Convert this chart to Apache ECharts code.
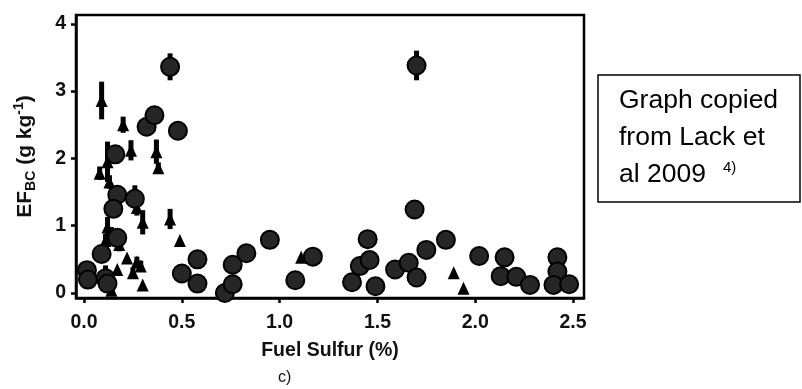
<!DOCTYPE html>
<html>
<head>
<meta charset="utf-8">
<script src="https://cdn.jsdelivr.net/npm/echarts@6/dist/echarts.min.js"></script>
<style>
  html, body { margin: 0; padding: 0; background: #fff; }
  #chart { width: 802px; height: 389px; }
</style>
</head>
<body>
<div id="chart"></div>
<script>
// fuel sulfur (%), EF_BC (g/kg), error half-length
const circles = [
  [0.015, 0.34, 0], [0.02, 0.20, 0], [0.09, 0.58, 0], [0.11, 0.22, 0], [0.12, 0.14, 0],
  [0.16, 2.06, 0], [0.17, 1.46, 0], [0.15, 1.25, 0], [0.17, 0.82, 0], [0.26, 1.40, 0],
  [0.32, 2.47, 0], [0.36, 2.64, 0], [0.48, 2.41, 0], [0.44, 3.36, 0.2], [0.50, 0.29, 0],
  [0.58, 0.50, 0.08], [0.58, 0.14, 0], [0.72, 0.00, 0], [0.76, 0.42, 0], [0.76, 0.13, 0],
  [0.83, 0.59, 0], [0.95, 0.79, 0], [1.08, 0.19, 0], [1.17, 0.54, 0], [1.37, 0.16, 0],
  [1.41, 0.40, 0], [1.46, 0.49, 0], [1.45, 0.80, 0], [1.49, 0.10, 0], [1.59, 0.35, 0],
  [1.66, 0.45, 0], [1.70, 0.23, 0], [1.69, 1.24, 0.1], [1.70, 3.38, 0.22], [1.75, 0.64, 0],
  [1.85, 0.79, 0], [2.02, 0.55, 0.1], [2.15, 0.53, 0], [2.13, 0.25, 0], [2.21, 0.24, 0],
  [2.28, 0.12, 0], [2.42, 0.53, 0], [2.42, 0.32, 0], [2.40, 0.12, 0], [2.48, 0.13, 0]
]
const triangles = [
  [0.09, 2.86, 0.28], [0.20, 2.50, 0.12], [0.37, 2.10, 0.18], [0.38, 1.86, 0.08],
  [0.12, 1.95, 0.3], [0.24, 2.12, 0.15], [0.08, 1.78, 0.1], [0.26, 1.50, 0.1],
  [0.27, 1.27, 0.12], [0.30, 1.05, 0.18], [0.44, 1.10, 0.15], [0.49, 0.78, 0],
  [0.12, 0.98, 0.15], [0.14, 0.88, 0.1], [0.11, 0.78, 0.1], [0.13, 1.65, 0.1],
  [0.18, 0.72, 0.1], [0.22, 0.52, 0], [0.17, 0.35, 0], [0.11, 0.31, 0.1],
  [0.14, 0.04, 0], [0.27, 0.46, 0.08], [0.25, 0.30, 0.08], [0.29, 0.40, 0.08],
  [0.30, 0.12, 0], [1.11, 0.53, 0], [1.89, 0.30, 0], [1.94, 0.07, 0]
]
const xTicks = [0, 0.5, 1.0, 1.5, 2.0, 2.5]
const yTicks = [0, 1, 2, 3, 4]

const font = "'Liberation Sans', Arial, sans-serif"

function errorBars(data) {
  return {
    type: 'custom',
    data: data.filter(d => d[2] > 0),
    z: 1,
    renderItem: (params, api) => {
      const x = api.value(0), y = api.value(1), e = api.value(2)
      const top = api.coord([x, y + e])
      const bot = api.coord([x, y - e])
      return {
        type: 'line',
        shape: { x1: top[0], y1: top[1], x2: bot[0], y2: bot[1] },
        style: { stroke: '#000', lineWidth: 5 }
      }
    }
  }
}

const chart = echarts.init(document.getElementById('chart'), null, { renderer: 'canvas' })

chart.setOption({
  animation: false,
  backgroundColor: '#fff',
  textStyle: { fontFamily: font },
  grid: {
    left: 76, right: 218, top: 15, bottom: 91,
    show: true, borderColor: '#000', borderWidth: 2.5, backgroundColor: 'transparent'
  },
  xAxis: {
    type: 'value',
    min: -0.041, max: 2.556,
    splitLine: { show: false },
    axisLine: { onZero: false, lineStyle: { color: '#000', width: 2.5 } },
    axisTick: { customValues: xTicks, length: 5, lineStyle: { color: '#000', width: 2.5 } },
    axisLabel: {
      customValues: xTicks, margin: 15, fontSize: 19.5, fontWeight: 'bold', color: '#111',
      fontFamily: font, formatter: v => v.toFixed(1)
    },
    name: 'Fuel Sulfur (%)',
    nameLocation: 'middle',
    nameGap: 43,
    nameTextStyle: { fontSize: 19.5, fontWeight: 'bold', color: '#111', fontFamily: font }
  },
  yAxis: {
    type: 'value',
    min: -0.074, max: 4.13,
    splitLine: { show: false },
    axisLine: { onZero: false, lineStyle: { color: '#000', width: 2.5 } },
    axisTick: { customValues: yTicks, length: 5, lineStyle: { color: '#000', width: 2.5 } },
    axisLabel: {
      customValues: yTicks, margin: 10, fontSize: 19.5, fontWeight: 'bold', color: '#111',
      fontFamily: font
    },
    name: 'EF{sub|BC} (g kg{sup|-1})',
    nameLocation: 'middle',
    nameRotate: 90,
    nameGap: 38,
    nameTextStyle: {
      fontSize: 21, fontWeight: 'bold', color: '#111', fontFamily: font, lineHeight: 26,
      rich: {
        sub: { fontSize: 14, fontWeight: 'bold', color: '#111', fontFamily: font,
          verticalAlign: 'bottom', lineHeight: 14 },
        sup: { fontSize: 14, fontWeight: 'bold', color: '#111', fontFamily: font,
          verticalAlign: 'top', lineHeight: 14 }
      }
    }
  },
  series: [
    errorBars(circles),
    errorBars(triangles),
    {
      type: 'scatter',
      data: triangles,
      symbol: 'triangle',
      symbolSize: [12, 13],
      itemStyle: { color: '#000', opacity: 1 },
      z: 2
    },
    {
      type: 'scatter',
      data: circles,
      symbol: 'circle',
      symbolSize: 18,
      itemStyle: { color: '#262626', borderColor: '#000', borderWidth: 2, opacity: 1 },
      z: 3
    }
  ],
  graphic: [
    {
      type: 'text', left: 278, top: 370,
      style: { text: 'c)', fontSize: 16, fill: '#111', fontFamily: font }
    },
    {
      type: 'rect', shape: { x: 598, y: 75, width: 202, height: 127 },
      style: { fill: 'none', stroke: '#000', lineWidth: 1.5 }
    },
    {
      type: 'text', x: 619, y: 82,
      style: {
        text: 'Graph copied\nfrom Lack et\nal 2009',
        fontSize: 26.5, lineHeight: 37, fill: '#000', fontFamily: font,
        verticalAlign: 'top'
      }
    },
    {
      type: 'text', x: 723, y: 160,
      style: { text: '4)', fontSize: 15, fill: '#000', fontFamily: font, verticalAlign: 'top' }
    }
  ]
})
</script>
</body>
</html>
